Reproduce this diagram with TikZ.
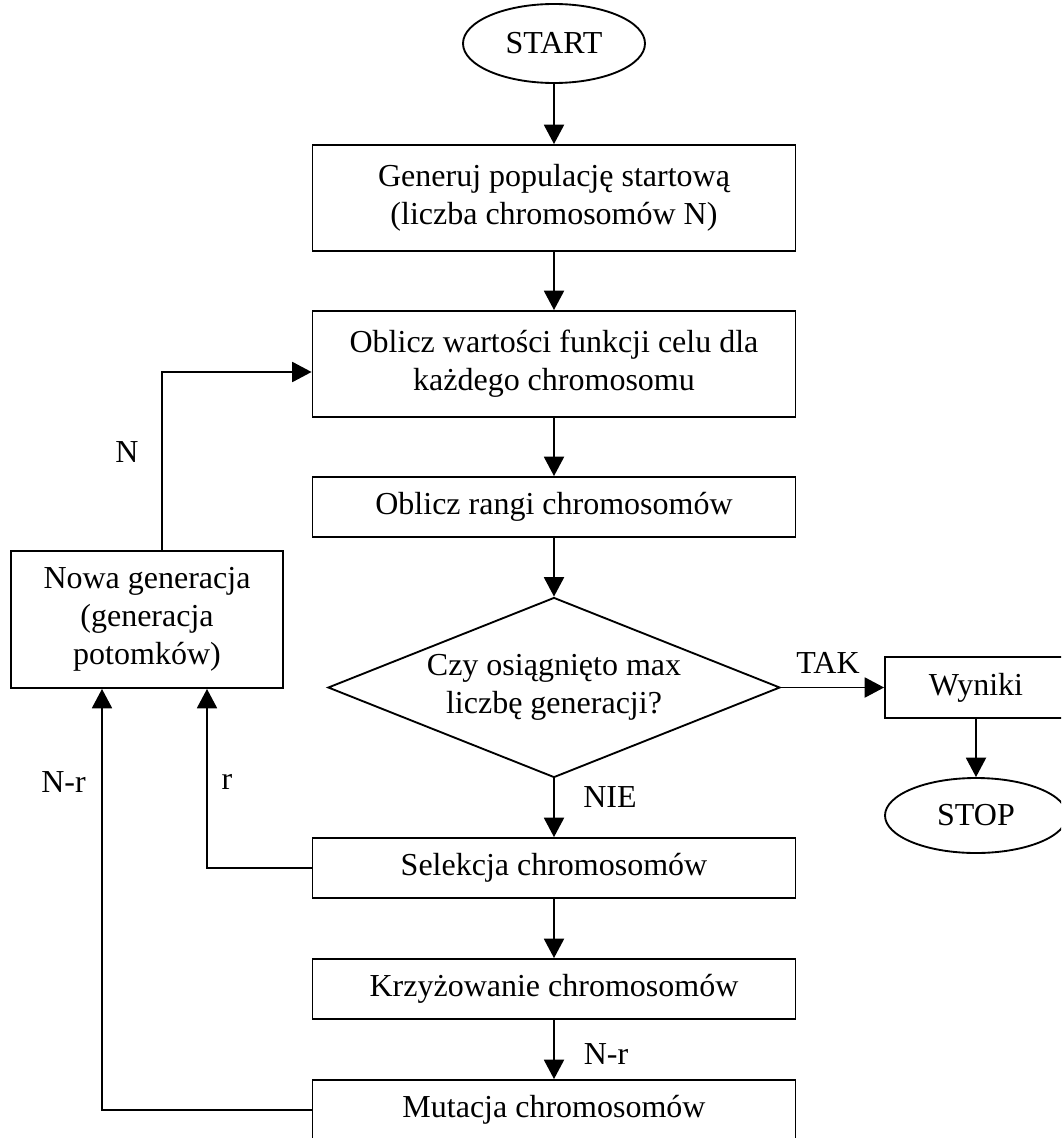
\documentclass[tikz,border=0pt]{standalone}
\usepackage{fontspec}
\setmainfont{Liberation Serif}
\usetikzlibrary{shapes.geometric,arrows.meta}
\begin{document}
\begin{tikzpicture}[x=0.75pt,y=-0.75pt,
  every node/.style={font=\fontsize{24}{28.5}\selectfont},
  box/.style={draw, line width=1.4pt, rectangle, minimum width=362.25pt,
    inner sep=0pt, align=center},
  term/.style={draw, line width=1.4pt, ellipse, minimum width=136.5pt, inner sep=0pt},
  decision/.style={draw, line width=1.4pt, diamond, minimum width=339pt,
    minimum height=135pt, inner sep=0pt},
  arr/.style={line width=1.4pt, -{Triangle[length=14.5pt,width=15pt]}},
  lbl/.style={inner sep=0pt}]
  \useasboundingbox (0,0) rectangle (1061,1138);
  \clip (0,0) rectangle (1061,1138);

  % main column
  \node[term, minimum height=59.25pt] (start) at (554,43.5) {START};
  \node[box, minimum height=79.5pt] (gen) at (554,198)
    {Generuj populację startową\\(liczba chromosomów N)};
  \node[box, minimum height=79.5pt] (eval) at (554,364)
    {Oblicz wartości funkcji celu dla\\każdego chromosomu};
  \node[box, minimum height=45pt] (rank) at (554,507) {Oblicz rangi chromosomów};
  \node[decision, label={[align=center]center:Czy osiągnięto max\\liczbę generacji?}]
    (dec) at (554,687.5) {};
  \node[box, minimum height=45pt] (sel) at (554,868) {Selekcja chromosomów};
  \node[box, minimum height=45pt] (krz) at (554,989) {Krzyżowanie chromosomów};
  \node[box, minimum height=45pt] (mut) at (554,1110) {Mutacja chromosomów};

  % result branch
  \node[box, minimum width=136.5pt, minimum height=45.75pt] (wyn) at (976,687.5) {Wyniki};
  \node[term, minimum height=56.25pt] (stop) at (976,815.5) {STOP};

  % new generation
  \node[box, minimum width=204pt, minimum height=102.75pt] (nowa) at (147,619.5)
    {Nowa generacja\\(generacja\\potomków)};

  % connectors
  \draw[arr] (start) -- (gen);
  \draw[arr] (gen) -- (eval);
  \draw[arr] (eval) -- (rank);
  \draw[arr] (rank) -- (dec);
  \draw[arr] (dec.east) -- (wyn.west);
  \draw[arr] (wyn) -- (stop);
  \draw[arr] (dec.south) -- (sel.north);
  \draw[arr] (sel) -- (krz);
  \draw[arr] (krz) -- (mut);
  \draw[arr] ([xshift=11.25pt]nowa.north) |- ([yshift=-6pt]eval.west);
  \draw[arr] (sel.west) -| ([xshift=45pt]nowa.south);
  \draw[arr] (mut.west) -| ([xshift=-33.75pt]nowa.south);

  % connector labels
  \node[lbl] (ltak) at (828,663) {TAK};
  \node[lbl] (lnie) at (610,797.5) {NIE};
  \node[lbl] (lnr) at (606,1054) {N-r};
  \node[lbl] (ln) at (127,452) {N};
  \node[lbl] (lnr2) at (63.5,782) {N-r};
  \node[lbl] (lr) at (227,782) {r};
\end{tikzpicture}
\end{document}
